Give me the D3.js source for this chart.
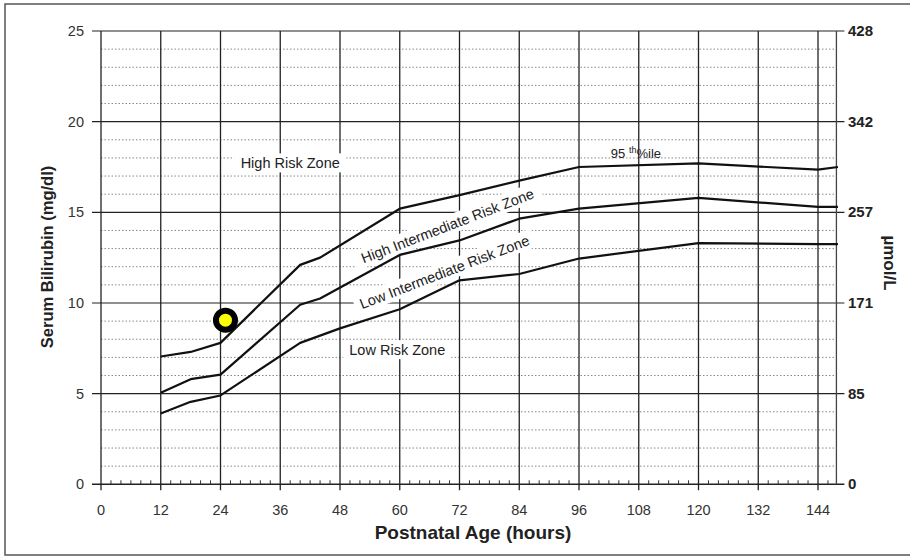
<!DOCTYPE html>
<html>
<head>
<meta charset="utf-8">
<script src="https://cdn.jsdelivr.net/npm/d3@7"></script>
<style>
body{margin:0;background:#fff}
text{font-family:"Liberation Sans",Arial,sans-serif}
</style>
</head>
<body>
<div id="chart"></div>
<script>
var hours=[12,18,24,40,44,60,72,84,96,120,144,148]
var p95=[7.05,7.3,7.8,12.1,12.5,15.2,15.95,16.75,17.5,17.7,17.35,17.5]
var p75=[5.05,5.8,6.05,9.9,10.25,12.65,13.45,14.65,15.2,15.8,15.3,15.3]
var hours40=[12,18,24,40,48,60,72,84,96,120,144,148]
var p40=[3.9,4.55,4.9,7.8,8.6,9.65,11.25,11.6,12.45,13.3,13.25,13.25]
var xTicks=[0,12,24,36,48,60,72,84,96,108,120,132,144]
var yTicks=[0,5,10,15,20,25]
var umolLabels=["0","85","171","257","342","428"]
var patient={hour:25,value:9.05}

var width=910,height=557
var svg=d3.select("#chart").append("svg")
	.attr("width",width)
	.attr("height",height)

// outer frame
svg.append("rect")
	.attr("x",5).attr("y",4)
	.attr("width",915).attr("height",551)
	.attr("fill","none").attr("stroke","#555").attr("stroke-width",1.5)

var x=d3.scaleLinear().domain([0,144]).range([101,818])
var y=d3.scaleLinear().domain([0,25]).range([484.3,31])
var xMax=147.7

// dotted minor grid
var minor=d3.range(1,25).filter(function(d){return d%5!=0})
svg.selectAll(".minor").data(minor).enter().append("line")
	.attr("x1",x(0)).attr("x2",x(xMax))
	.attr("y1",function(d){return y(d)}).attr("y2",function(d){return y(d)})
	.attr("stroke","#888").attr("stroke-width",1).attr("stroke-dasharray","1.5,2")

// major horizontal lines, extending out as ticks
svg.selectAll(".major").data(yTicks).enter().append("line")
	.attr("x1",x(0)-9).attr("x2",x(xMax)+8)
	.attr("y1",function(d){return y(d)}).attr("y2",function(d){return y(d)})
	.attr("stroke","#222").attr("stroke-width",function(d){return d==0?1.6:1.2})

// vertical lines
svg.selectAll(".vline").data(xTicks).enter().append("line")
	.attr("x1",function(d){return x(d)}).attr("x2",function(d){return x(d)})
	.attr("y1",y(25)).attr("y2",y(0)+6)
	.attr("stroke","#222").attr("stroke-width",1.3)
svg.append("line")
	.attr("x1",x(xMax)).attr("x2",x(xMax))
	.attr("y1",y(25)).attr("y2",y(0))
	.attr("stroke","#444").attr("stroke-width",1.3)

// small ticks every 2 hours on the x axis
var small=d3.range(2,xMax,2).filter(function(d){return d%12!=0})
svg.selectAll(".small").data(small).enter().append("line")
	.attr("x1",function(d){return x(d)}).attr("x2",function(d){return x(d)})
	.attr("y1",y(0)-4).attr("y2",y(0))
	.attr("stroke","#333").attr("stroke-width",1)

// tick labels
svg.selectAll(".xl").data(xTicks).enter().append("text")
	.attr("x",function(d){return x(d)})
	.attr("y",515)
	.attr("text-anchor","middle")
	.attr("font-size","14.5px")
	.attr("fill","#333")
	.text(function(d){return d})
svg.selectAll(".yl").data(yTicks).enter().append("text")
	.attr("x",84)
	.attr("y",function(d){return y(d)+5})
	.attr("text-anchor","end")
	.attr("font-size","14.5px")
	.attr("fill","#333")
	.text(function(d){return d})
svg.selectAll(".yr").data(yTicks).enter().append("text")
	.attr("x",848)
	.attr("y",function(d){return y(d)+5})
	.attr("font-size","15px")
	.attr("font-weight","bold")
	.attr("fill","#222")
	.text(function(d,i){return umolLabels[i]})

// axis titles
svg.append("text")
	.attr("transform","translate(53,257) rotate(-90)")
	.attr("text-anchor","middle")
	.attr("font-size","16.5px").attr("font-weight","bold").attr("fill","#222")
	.text("Serum Bilirubin (mg/dl)")
svg.append("text")
	.attr("transform","translate(884,263) rotate(90)")
	.attr("text-anchor","middle")
	.attr("font-size","17px").attr("font-weight","bold").attr("fill","#222")
	.text("µmol/L")
svg.append("text")
	.attr("x",473).attr("y",539)
	.attr("text-anchor","middle")
	.attr("font-size","19px").attr("font-weight","bold").attr("fill","#222")
	.text("Postnatal Age (hours)")

// zone labels with white backing
function label(txt,h,v,angle,w){
	var g=svg.append("g")
		.attr("transform","translate("+x(h)+","+y(v)+") rotate("+angle+")")
	g.append("rect")
		.attr("x",-w/2).attr("y",-10).attr("width",w).attr("height",19)
		.attr("fill","#fff")
	g.append("text")
		.attr("text-anchor","middle")
		.attr("y",5)
		.attr("font-size","14.5px").attr("fill","#222")
		.text(txt)
	return g
}
label("High Risk Zone",38,17.7,0,112)
label("Low Risk Zone",59.5,7.4,0,108)
label("High Intermediate Risk Zone",69.6,14.25,-21,200)
label("Low Intermediate Risk Zone",69,11.7,-21,192)

var t95=svg.append("text")
	.attr("x",x(102.4)).attr("y",y(18.0))
	.attr("font-size","13px").attr("fill","#222")
t95.append("tspan").text("95 ")
t95.append("tspan").attr("font-size","9px").attr("dy",-5).text("th")
t95.append("tspan").attr("dy",5).text("%ile")

// percentile curves
var line=d3.line()
	.x(function(d){return x(d[0])})
	.y(function(d){return y(d[1])})
var curves=[d3.zip(hours,p95),d3.zip(hours,p75),d3.zip(hours40,p40)]
svg.selectAll(".curve").data(curves).enter().append("path")
	.attr("d",line)
	.attr("fill","none")
	.attr("stroke","#111")
	.attr("stroke-width",2.2)
	.attr("stroke-linejoin","round")

// patient point
svg.append("circle")
	.attr("cx",x(patient.hour)).attr("cy",y(patient.value))
	.attr("r",9.5)
	.attr("fill","#ffff00")
	.attr("stroke","#000")
	.attr("stroke-width",6)
</script>
</body>
</html>
